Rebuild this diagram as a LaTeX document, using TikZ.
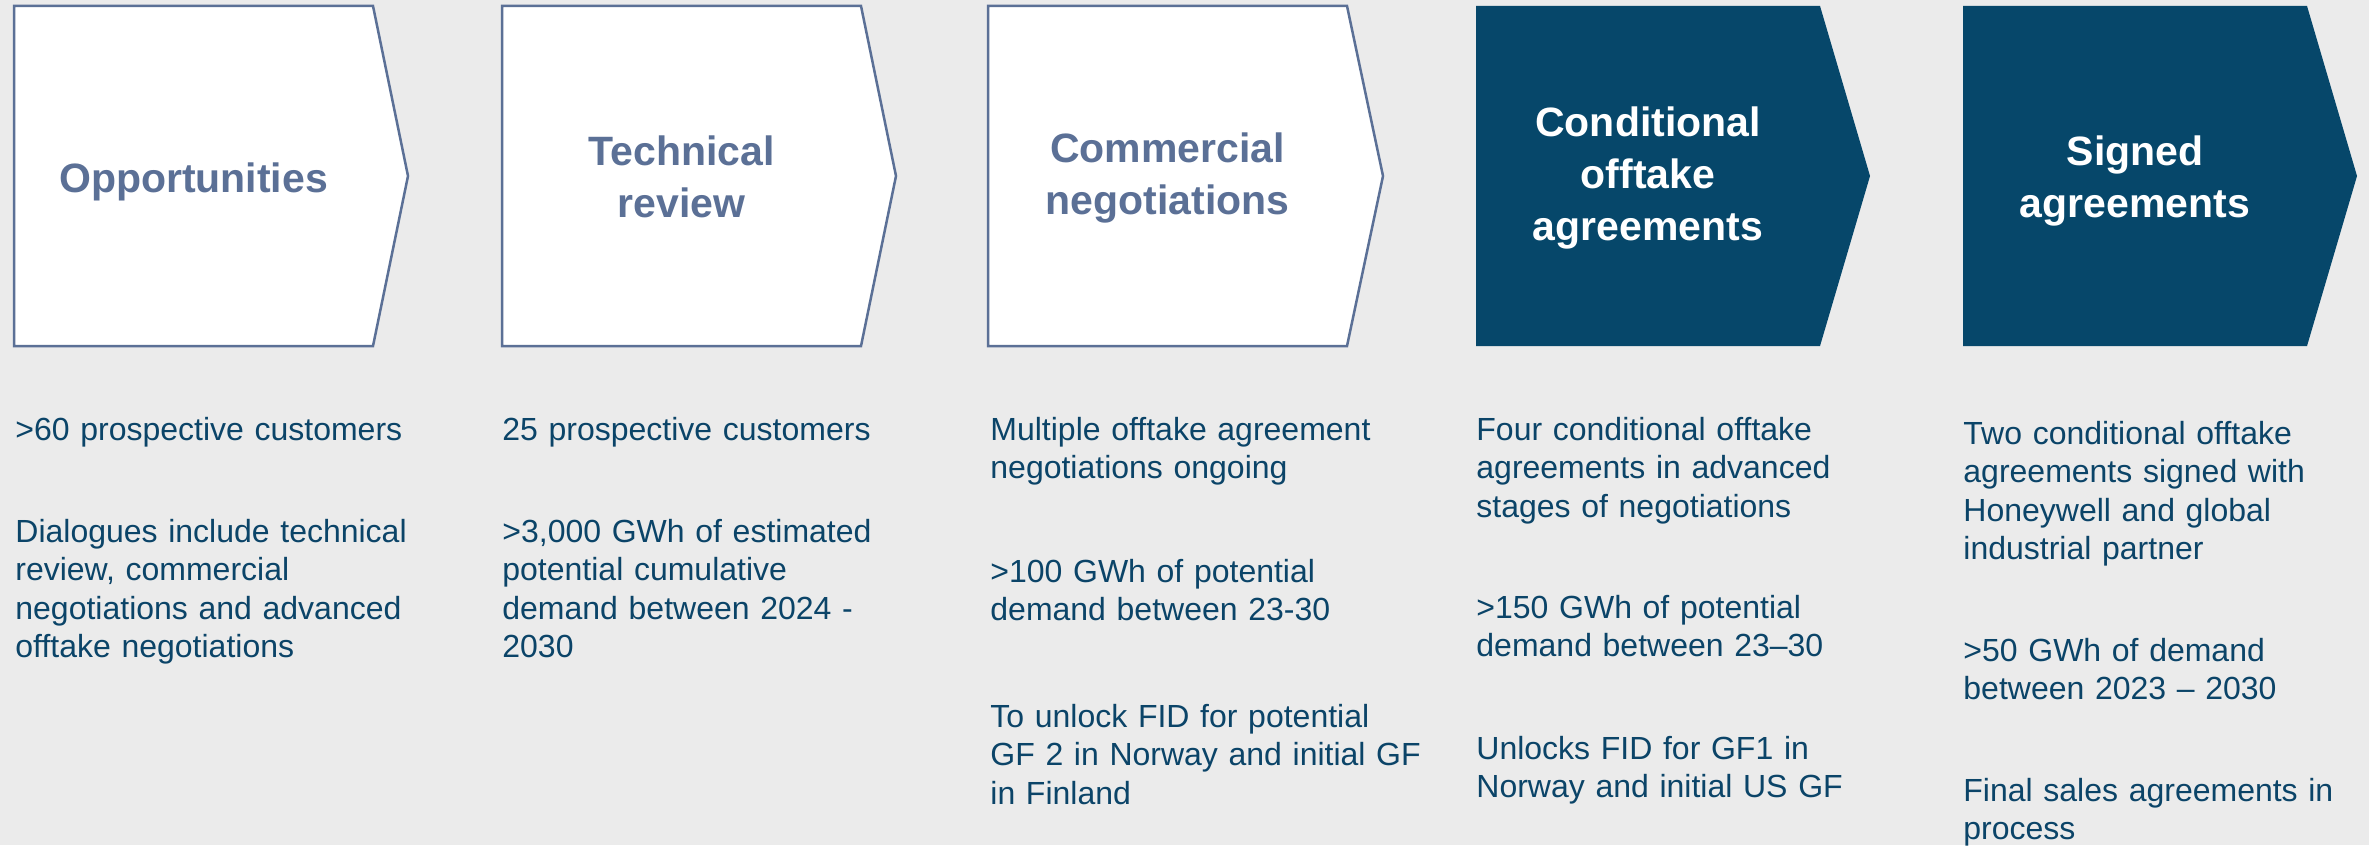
\documentclass[tikz,border=0pt]{standalone}
\usepackage{fontspec}
\setmainfont{Liberation Sans}
\definecolor{pagebg}{HTML}{EBEBEB}
\definecolor{slate}{HTML}{5B7096}
\definecolor{deep}{HTML}{06476A}
\definecolor{ink}{HTML}{0B4468}
\newcommand\leadstrut{\rule{0pt}{14pt}}
\newcommand\stagechevron[4]{% left, right, tip, style
  \path[#4] (#1,6) -- (#2,6) -- (#3,176) -- (#2,346) -- (#1,346) -- cycle;}
\begin{document}
\begin{tikzpicture}[x=0.5pt,y=-0.5pt,
  lightstage/.style={fill=white,draw=slate,line width=1.25pt,line join=miter},
  darkstage/.style={fill=deep},
  stagetitle/.style={inner sep=0pt,align=center,
    font=\bfseries\fontsize{20.5}{26}\selectfont},
  lighttitle/.style={stagetitle,text=slate},
  darktitle/.style={stagetitle,text=white},
  body/.style={anchor=north west,inner sep=0pt,text width=235pt,align=left,
    text=ink,font=\fontsize{16}{19.15}\selectfont}]
\useasboundingbox (0,0) rectangle (2369,845);
\fill[pagebg] (0,0) rectangle (2369,845);

% stage chevrons
\stagechevron{14}{373}{408}{lightstage}
\stagechevron{502}{861}{896}{lightstage}
\stagechevron{988}{1347}{1383}{lightstage}
\stagechevron{1476}{1820}{1870}{darkstage}
\stagechevron{1963}{2307}{2357}{darkstage}

% stage titles
\node[lighttitle] (t1) at (193.5,182) {Opportunities};
\node[lighttitle] (t2) at (681.5,177) {Technical\\review};
\node[lighttitle] (t3) at (1167.5,178) {Commercial\\negotiations};
\node[darktitle]  (t4) at (1648,178) {Conditional\\offtake\\agreements};
\node[darktitle]  (t5) at (2135,181) {Signed\\agreements};

% stage details
\node[body] (d1a) at (15,412) {\leadstrut>60 prospective customers};
\node[body] (d1b) at (15,514) {\leadstrut Dialogues include technical\\review, commercial\\negotiations and advanced\\offtake negotiations};

\node[body] (d2a) at (502,412) {\leadstrut 25 prospective customers};
\node[body] (d2b) at (502,514) {\leadstrut>3,000 GWh of estimated\\potential cumulative\\demand between 2024 -\\2030};

\node[body] (d3a) at (990,412) {\leadstrut Multiple offtake agreement\\negotiations ongoing};
\node[body] (d3b) at (990,554) {\leadstrut>100 GWh of potential\\demand between 23-30};
\node[body] (d3c) at (990,699) {\leadstrut To unlock FID for potential\\GF 2 in Norway and initial GF\\in Finland};

\node[body] (d4a) at (1476,412) {\leadstrut Four conditional offtake\\agreements in advanced\\stages of negotiations};
\node[body] (d4b) at (1476,590) {\leadstrut>150 GWh of potential\\demand between 23–30};
\node[body] (d4c) at (1476,731) {\leadstrut Unlocks FID for GF1 in\\Norway and initial US GF};

\node[body] (d5a) at (1963,416) {\leadstrut Two conditional offtake\\agreements signed with\\Honeywell and global\\industrial partner};
\node[body] (d5b) at (1963,633) {\leadstrut>50 GWh of demand\\between 2023 – 2030};
\node[body] (d5c) at (1963,773) {\leadstrut Final sales agreements in\\process};
\end{tikzpicture}
\end{document}
